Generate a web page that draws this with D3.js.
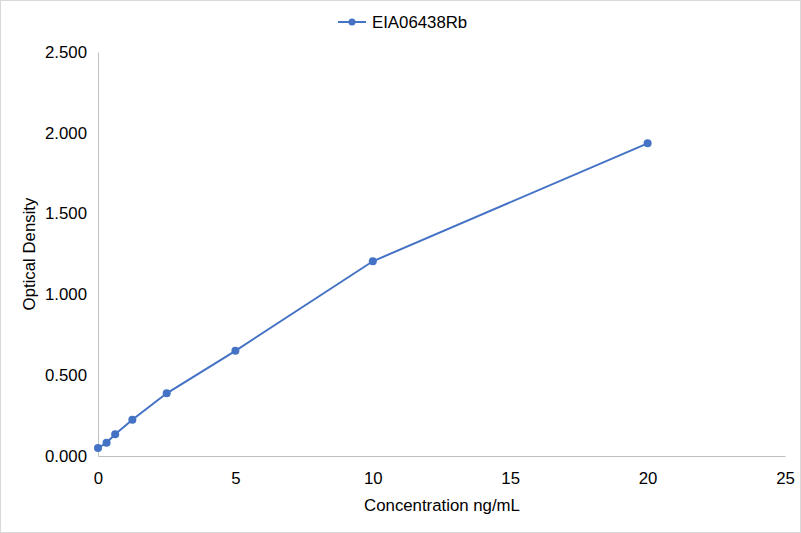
<!DOCTYPE html>
<html><head><meta charset="utf-8">
<script src="https://cdn.jsdelivr.net/npm/d3@7"></script>
<style>body{margin:0;background:#fff;}svg{display:block;font-family:"Liberation Sans",Arial,sans-serif;}</style>
</head><body>
<script>
const seriesName = "EIA06438Rb";
const concentrations = [0, 0.3125, 0.625, 1.25, 2.5, 5, 10, 20];
const densities = [0.049, 0.082, 0.134, 0.224, 0.388, 0.651, 1.205, 1.935];
const xTicks = [0, 5, 10, 15, 20, 25];
const yTicks = [0, 0.5, 1.0, 1.5, 2.0, 2.5];
const xTitle = "Concentration ng/mL";
const yTitle = "Optical Density";

const W = 801, H = 533;
const FS = "16.8px";
const m = {left: 98, right: 16, top: 52, bottom: 77};
const svg = d3.select("body").append("svg").attr("width", W).attr("height", H);
svg.append("rect").attr("x",0.5).attr("y",0.5).attr("width",W-1).attr("height",H-1)
  .attr("fill","#fff").attr("stroke","#d9d9d9");

const x = d3.scaleLinear().domain([0,25]).range([m.left, W-m.right]);
const y = d3.scaleLinear().domain([0,2.5]).range([H-m.bottom, m.top]);

const xAxis = svg.append("g").attr("transform",`translate(0,${H-m.bottom})`)
  .call(d3.axisBottom(x).tickValues(xTicks).tickSize(0).tickPadding(16).tickFormat(d3.format("d")));
xAxis.select(".domain").attr("stroke","#bfbfbf");
xAxis.selectAll("text").attr("font-size",FS).attr("fill","#000").attr("font-family","Liberation Sans, Arial, sans-serif");

const yAxis = svg.append("g").attr("transform",`translate(${m.left},0)`)
  .call(d3.axisLeft(y).tickValues(yTicks).tickSize(0).tickPadding(11).tickFormat(d3.format(".3f")));
yAxis.select(".domain").attr("stroke","#bfbfbf");
yAxis.selectAll("text").attr("font-size",FS).attr("fill","#000").attr("font-family","Liberation Sans, Arial, sans-serif");

const data = concentrations.map((c,i)=>({c, d: densities[i]}));
const color = "#4472C4";
svg.append("path").datum(data)
  .attr("fill","none").attr("stroke",color).attr("stroke-width",2)
  .attr("d", d3.line().x(d=>x(d.c)).y(d=>y(d.d)));
svg.selectAll("circle.pt").data(data).enter().append("circle").attr("class","pt")
  .attr("cx",d=>x(d.c)).attr("cy",d=>y(d.d)).attr("r",4).attr("fill",color);

svg.append("text").attr("x",442).attr("y",511).attr("text-anchor","middle")
  .attr("font-size",FS).text(xTitle);
svg.append("text").attr("transform",`translate(35,254) rotate(-90)`)
  .attr("text-anchor","middle").attr("font-size",FS).text(yTitle);

const lg = svg.append("g");
lg.append("line").attr("x1",338).attr("x2",366).attr("y1",22).attr("y2",22).attr("stroke",color).attr("stroke-width",2);
lg.append("circle").attr("cx",352).attr("cy",22).attr("r",3.5).attr("fill",color);
lg.append("text").attr("x",372).attr("y",27.5).attr("font-size",FS).text(seriesName);
</script>
</body></html>
